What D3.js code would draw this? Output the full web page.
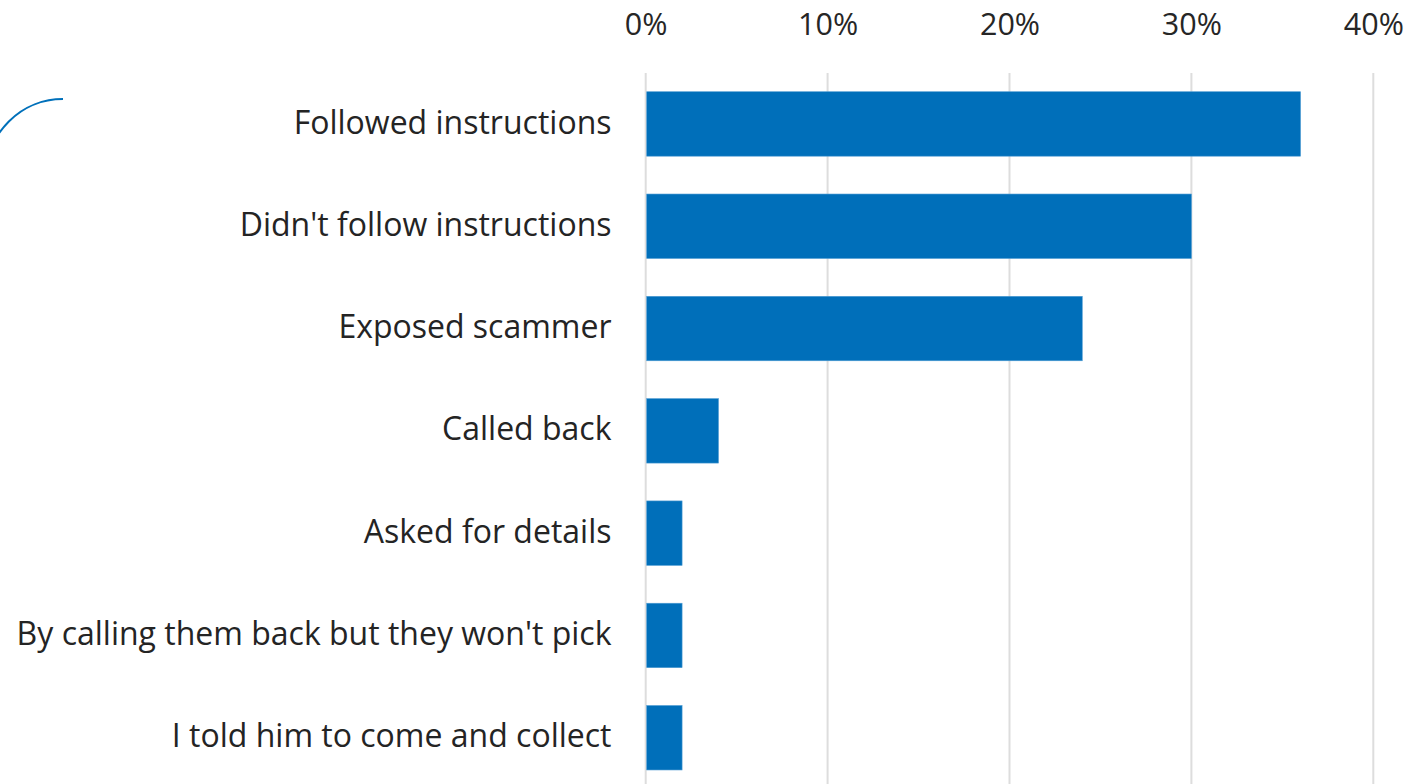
<!DOCTYPE html>
<html>
<head>
<meta charset="utf-8">
<script src="https://cdn.jsdelivr.net/npm/d3@7"></script>
<style>
  html, body { margin: 0; padding: 0; background: #fff; }
  svg { display: block; font-family: "Open Sans", "Noto Sans", sans-serif; }
</style>
</head>
<body>
<svg id="chart" width="1421" height="784"></svg>
<script>
// Responses and their share of respondents (%)
const categories = [
  "Followed instructions",
  "Didn't follow instructions",
  "Exposed scammer",
  "Called back",
  "Asked for details",
  "By calling them back but they won't pick",
  "I told him to come and collect"
];
const values = [36, 30, 24, 4, 2, 2, 2];
const tickValues = [0, 10, 20, 30, 40];
const tickLabels = ["0%", "10%", "20%", "30%", "40%"];

const svg = d3.select("#chart");
const W = 1421, H = 784;

const x = d3.scaleLinear().domain([0, 40]).range([645.7, 1373.3]);
const y = d3.scaleBand().domain(categories).range([72.8, 788.9]).paddingInner(0.37).paddingOuter(0.185);

// decorative arc in the top-left corner
const cornerArc = d3.path();
cornerArc.arc(0, 0, 76.6, Math.PI, 1.5 * Math.PI);
svg.append("path")
  .attr("transform", "translate(63,175.6)")
  .attr("d", cornerArc.toString())
  .attr("fill", "none")
  .attr("stroke", "#0070ba")
  .attr("stroke-width", 2);

// vertical gridlines
svg.append("g").selectAll("line")
  .data(tickValues)
  .join("line")
  .attr("x1", d => x(d)).attr("x2", d => x(d))
  .attr("y1", 73).attr("y2", H)
  .attr("stroke", "#dddddd")
  .attr("stroke-width", 2);

// top axis labels
const axis = d3.axisTop(x).tickValues(tickValues).tickFormat((d, i) => tickLabels[i]).tickSize(0).tickPadding(0);
const gAxis = svg.append("g").attr("transform", "translate(0,35)").call(axis);
gAxis.select(".domain").remove();
gAxis.selectAll("text")
  .attr("dy", 0)
  .attr("font-size", 30.5)
  .attr("font-family", "'Open Sans', sans-serif")
  .attr("fill", "#262626");

// bars
svg.append("g").selectAll("rect")
  .data(values)
  .join("rect")
  .attr("x", x(0) + 1)
  .attr("y", (d, i) => y(categories[i]))
  .attr("width", d => x(d) - x(0) - 1)
  .attr("height", y.bandwidth())
  .attr("fill", "#006fba")
  .attr("stroke", "#4d9bd3")
  .attr("stroke-width", 0.6);

// category labels
svg.append("g").selectAll("text")
  .data(categories)
  .join("text")
  .attr("x", 611.5)
  .attr("y", d => y(d) + y.bandwidth() / 2)
  .attr("dy", "0.3em")
  .attr("text-anchor", "end")
  .attr("font-size", 32)
  .attr("fill", "#242424")
  .text(d => d);
</script>
</body>
</html>
